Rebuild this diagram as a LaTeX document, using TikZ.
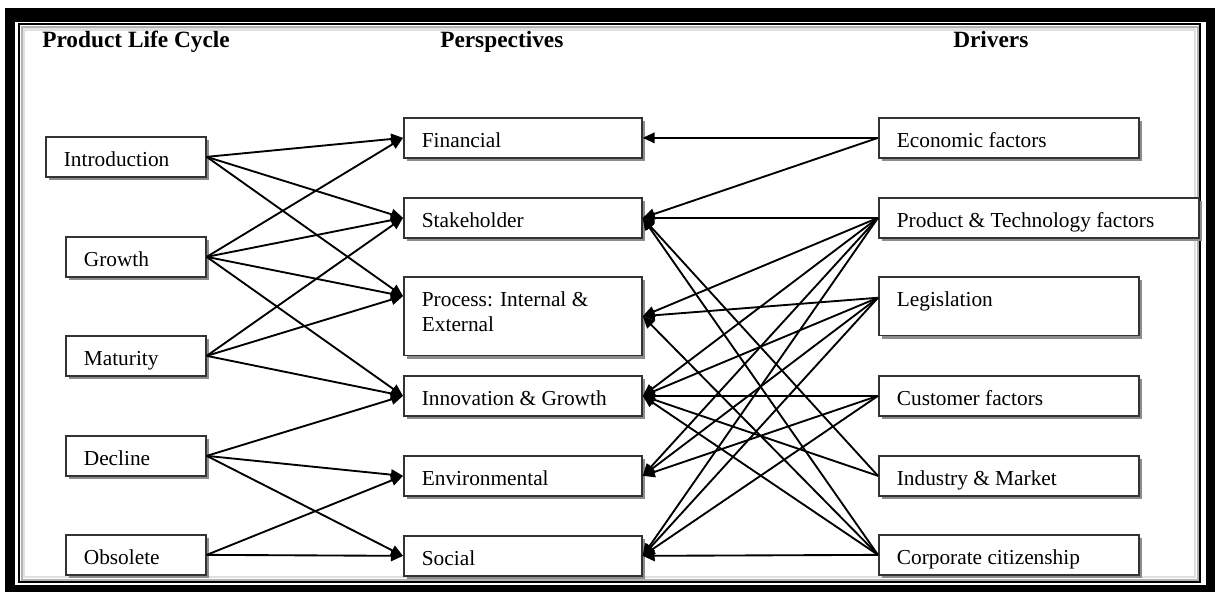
\documentclass[tikz,border=0pt]{standalone}
\usepackage{fontspec}
\setmainfont{Liberation Serif}
\usetikzlibrary{arrows.meta,calc,shadows}

\tikzset{
  box/.style={draw=black!80, line width=1.3pt, fill=white, rectangle, anchor=north west,
    inner xsep=13.5pt, inner ysep=0pt, text height=22pt, text depth=8pt, align=flush left,
    font=\fontsize{16}{18.75}\selectfont,
    drop shadow={shadow xshift=2.4pt, shadow yshift=-2.4pt, fill=black!45, opacity=1}},
  cyclebox/.style={box, text width=78pt},
  viewbox/.style={box, text width=151.5pt},
  driverbox/.style={box, text width=168pt},
  heading/.style={anchor=base west, inner sep=0pt, font=\fontsize{17.5}{21}\selectfont\bfseries},
  link/.style={line width=1.4pt, -{Triangle[length=9pt,width=8pt]}}
}

\begin{document}
\begin{tikzpicture}[x=0.75pt,y=0.75pt,yscale=-1,xscale=1]
  \useasboundingbox (0,0) rectangle (1215,592);

  %Frame
  \fill (5,8) rectangle (1215,592);
  \fill[white] (15,22) rectangle (1206,585);
  \draw[line width=1.5pt] (19,24.5) rectangle (1200,582);
  \draw[black!30, line width=1.5pt] (21.5,27) rectangle (1197.5,579.5);
  \draw[black!12, line width=2pt] (24,29.5) rectangle (1195,577);

  % Text Node
  \node[heading] (hcycle) at (42,48) {Product Life Cycle};
  % Text Node
  \node[heading] (hview) at (440,48) {Perspectives};
  % Text Node
  \node[heading] (hdriver) at (953,48) {Drivers};

  %Life cycle stages
  \node[cyclebox, text width=93pt] (intro) at (45,136) {Introduction};
  \node[cyclebox] (growth) at (65,236) {Growth};
  \node[cyclebox] (mature) at (65,335) {Maturity};
  \node[cyclebox] (decline) at (65,435) {Decline};
  \node[cyclebox] (obsolete) at (65,534) {Obsolete};

  %Perspectives
  \node[viewbox] (fin) at (403,117) {Financial};
  \node[viewbox] (stake) at (403,197) {Stakeholder};
  \node[viewbox, text depth=37pt] (proc) at (403,276) {Process: Internal \&\\External};
  \node[viewbox] (innov) at (403,375) {Innovation \& Growth};
  \node[viewbox] (env) at (403,455) {Environmental};
  \node[viewbox] (social) at (403,535) {Social};

  %Drivers
  \node[driverbox] (eco) at (878,117) {Economic factors};
  \node[driverbox, text width=213pt] (tech) at (878,197) {Product \& Technology factors};
  \node[driverbox, text depth=22pt] (legis) at (878,276) {Legislation};
  \node[driverbox] (cust) at (878,375) {Customer factors};
  \node[driverbox] (ind) at (878,455) {Industry \& Market};
  \node[driverbox] (corp) at (878,534) {Corporate citizenship};

  \coordinate (procin) at ($(proc.north west)!0.25!(proc.south west)$);
  \coordinate (legout) at ($(legis.north west)!0.36!(legis.south west)$);

  %Straight Lines: stages to perspectives
  \draw[link] (intro.east) -- (fin.west);
  \draw[link] (intro.east) -- (stake.west);
  \draw[link] (intro.east) -- (procin);
  \draw[link] (growth.east) -- (fin.west);
  \draw[link] (growth.east) -- (stake.west);
  \draw[link] (growth.east) -- (procin);
  \draw[link] (growth.east) -- (innov.west);
  \draw[link] (mature.east) -- (stake.west);
  \draw[link] (mature.east) -- (procin);
  \draw[link] (mature.east) -- (innov.west);
  \draw[link] (decline.east) -- (innov.west);
  \draw[link] (decline.east) -- (env.west);
  \draw[link] (decline.east) -- (social.west);
  \draw[link] (obsolete.east) -- (env.west);
  \draw[link] (obsolete.east) -- (social.west);

  %Straight Lines: drivers to perspectives
  \draw[link] (eco.west) -- (fin.east);
  \draw[link] (eco.west) -- (stake.east);
  \draw[link] (tech.west) -- (stake.east);
  \draw[link] (tech.west) -- (proc.east);
  \draw[link] (tech.west) -- (innov.east);
  \draw[link] (tech.west) -- (env.east);
  \draw[link] (tech.west) -- (social.east);
  \draw[link] (legout) -- (proc.east);
  \draw[link] (legout) -- (innov.east);
  \draw[link] (legout) -- (env.east);
  \draw[link] (legout) -- (social.east);
  \draw[link] (cust.west) -- (innov.east);
  \draw[link] (cust.west) -- (env.east);
  \draw[link] (cust.west) -- (social.east);
  \draw[link] (ind.west) -- (stake.east);
  \draw[link] (ind.west) -- (innov.east);
  \draw[link] (corp.west) -- (stake.east);
  \draw[link] (corp.west) -- (proc.east);
  \draw[link] (corp.west) -- (innov.east);
  \draw[link] (corp.west) -- (social.east);
\end{tikzpicture}
\end{document}
